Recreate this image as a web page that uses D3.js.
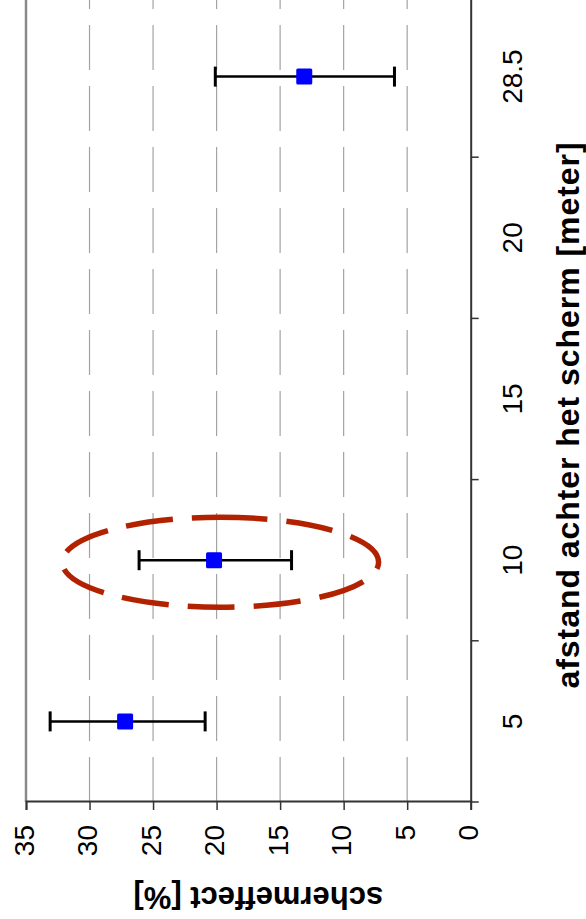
<!DOCTYPE html>
<html>
<head>
<meta charset="utf-8">
<script src="https://cdn.jsdelivr.net/npm/d3@7/dist/d3.min.js"></script>
<style>
  html, body { margin: 0; padding: 0; background: #fff; }
  svg { display: block; }
  text { font-family: "Liberation Sans", Arial, sans-serif; fill: #000; }
</style>
</head>
<body>
<svg id="chart" width="586" height="919"></svg>
<script>
// ---- data ----
const categories = ["5", "10", "15", "20", "28.5"];
const meanValues = [27.2, 20.2, null, null, 13.1];
const lowerValues = [20.9, 14.1, null, null, 6.0];
const upperValues = [33.1, 26.1, null, null, 20.1];
const valueTicks = [0, 5, 10, 15, 20, 25, 30, 35];
const gridValues = [5, 10, 15, 20, 25, 30];
const xTitle = "afstand achter het scherm [meter]";
const yTitle = "schermeffect [%]";
// highlighted region (ellipse annotation)
const highlightCategory = "10";
const highlightValue = 19.7;
const highlightHalfRange = 12.45;

// ---- layout (original, unrotated chart; rotated -90deg as a whole) ----
const W = 806;     // category axis length
const H = 444.7;   // value axis length
const svg = d3.select("#chart");
const g = svg.append("g").attr("transform", "translate(26,802) rotate(-90)");

const x = d3.scaleBand().domain(categories).range([0, W]).padding(0);
const y = d3.scaleLinear().domain([0, 35]).range([H, 0]);

// gridlines
g.selectAll("line.grid").data(gridValues).enter().append("line")
  .attr("class", "grid")
  .attr("x1", 0).attr("x2", W)
  .attr("y1", d => y(d)).attr("y2", d => y(d))
  .attr("stroke", "#a3a3a3").attr("stroke-width", 1.2)
  .attr("stroke-dasharray", "45,16");

// plot border (top & right of original)
g.append("line").attr("x1", 0).attr("x2", W).attr("y1", 0).attr("y2", 0)
  .attr("stroke", "#8a8a8a").attr("stroke-width", 2.5);
g.append("line").attr("x1", W).attr("x2", W).attr("y1", 0).attr("y2", H)
  .attr("stroke", "#8a8a8a").attr("stroke-width", 2.5);

// value axis (left in original)
const yAxis = d3.axisLeft(y).tickValues(valueTicks).tickSize(8).tickPadding(15)
  .tickFormat(d3.format("d"));
const ya = g.append("g").call(yAxis);
ya.select(".domain").attr("stroke", "#333").attr("stroke-width", 2);
ya.selectAll(".tick line").attr("stroke", "#333").attr("stroke-width", 1.5);
ya.selectAll(".tick text").attr("font-size", 28).attr("dy", "0.25em")
  .style("font-family", "'Liberation Sans', Arial, sans-serif");

// category axis (bottom in original)
const xa = g.append("g").attr("transform", `translate(0,${H})`)
  .call(d3.axisBottom(x).tickSize(0).tickPadding(0));
xa.select(".domain").attr("stroke", "#333").attr("stroke-width", 2);
xa.selectAll(".tick text").attr("font-size", 28).attr("dy", 0).attr("y", 51)
  .style("font-family", "'Liberation Sans', Arial, sans-serif");
// ticks between categories
const boundaries = categories.map(c => x(c)).concat([W]);
xa.selectAll("line.bt").data(boundaries).enter().append("line")
  .attr("class", "bt")
  .attr("x1", d => d).attr("x2", d => d).attr("y1", 0).attr("y2", 8)
  .attr("stroke", "#333").attr("stroke-width", 1.5);

// titles
g.append("text").attr("x", W / 2 - 16).attr("y", H + 108.5)
  .attr("text-anchor", "middle").attr("font-size", 32).attr("font-weight", "bold")
  .attr("letter-spacing", 0.95)
  .text(xTitle);
g.append("text").attr("transform", `translate(-85,${H / 2 + 10}) rotate(-90)`)
  .attr("text-anchor", "middle").attr("font-size", 31).attr("font-weight", "bold")
  .text(yTitle);

// data
const pts = categories.map((c, i) => ({c, m: meanValues[i], lo: lowerValues[i], hi: upperValues[i]}))
  .filter(d => d.m !== null);
const cx = d => x(d.c) + x.bandwidth() / 2;

const eb = g.selectAll("g.eb").data(pts).enter().append("g").attr("class", "eb");
eb.append("line").attr("x1", cx).attr("x2", cx).attr("y1", d => y(d.lo)).attr("y2", d => y(d.hi))
  .attr("stroke", "#000").attr("stroke-width", 2.5);
eb.append("line").attr("x1", d => cx(d) - 10).attr("x2", d => cx(d) + 10)
  .attr("y1", d => y(d.lo)).attr("y2", d => y(d.lo)).attr("stroke", "#000").attr("stroke-width", 3);
eb.append("line").attr("x1", d => cx(d) - 10).attr("x2", d => cx(d) + 10)
  .attr("y1", d => y(d.hi)).attr("y2", d => y(d.hi)).attr("stroke", "#000").attr("stroke-width", 3);

g.selectAll("rect.pt").data(pts).enter().append("rect")
  .attr("class", "pt")
  .attr("x", d => cx(d) - 8).attr("y", d => y(d.m) - 8)
  .attr("width", 16).attr("height", 16).attr("rx", 1.5)
  .attr("fill", "#0000ff");

// highlight ellipse
g.append("ellipse")
  .attr("cx", x(highlightCategory) + x.bandwidth() / 2 - 2)
  .attr("cy", y(highlightValue))
  .attr("rx", 45)
  .attr("ry", y(0) - y(highlightHalfRange))
  .attr("fill", "none").attr("stroke", "#b22200").attr("stroke-width", 5.5)
  .attr("stroke-dasharray", "47,19");
</script>
</body>
</html>
